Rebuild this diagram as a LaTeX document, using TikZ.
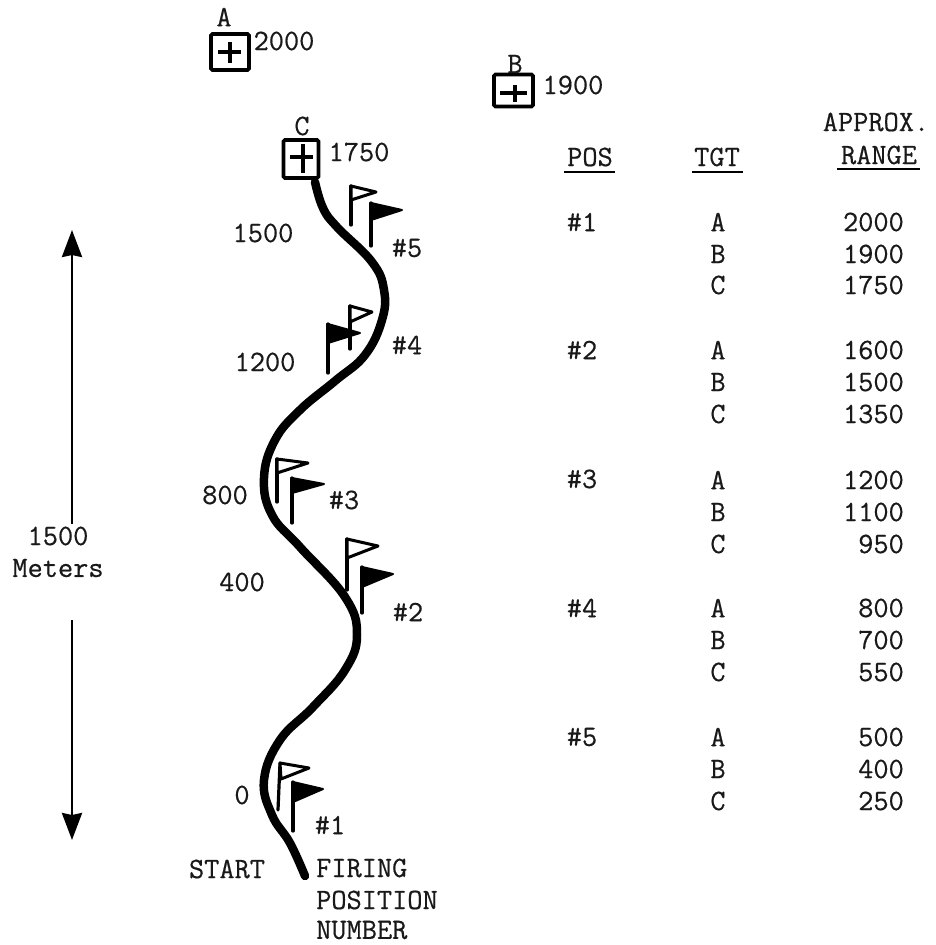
\documentclass[tikz,border=0pt]{standalone}
\usepackage{fontspec}
\usetikzlibrary{arrows.meta}
\newfontfamily\typer[FakeBold=0.5]{Latin Modern Mono}
\begin{document}
\begin{tikzpicture}[x=1pt,y=-1pt,
  txt/.style={font=\fontsize{29.5}{32}\selectfont\typer\bfseries,inner sep=0pt,text=black!90},
  tgtbox/.style={draw,line width=3.6pt,rounded corners=1.5pt,inner sep=0pt},
  road/.style={line width=8.5pt,line cap=round,line join=round},
  pole/.style={line width=3.2pt,line cap=round},
  wflag/.style={draw,line width=3pt,fill=white,line join=round},
  bflag/.style={draw,line width=2pt,fill=black,line join=round},
  dimline/.style={line width=2.8pt},
  tip/.style={-{Stealth[length=27pt,width=20pt,inset=2pt]}}]
\useasboundingbox (0,0) rectangle (936,945);
% targets
\node[tgtbox,minimum width=38pt,minimum height=36pt] (ta) at (230,52) {};
\draw[line width=3.4pt] (218,52) -- (241,52) (230,42) -- (230,63);
\node[tgtbox,minimum width=39pt,minimum height=32pt] (tb) at (513.5,90.5) {};
\draw[line width=3.4pt] (500,93) -- (527,93) (515,85) -- (515,102);
\node[tgtbox,minimum width=35pt,minimum height=38pt] (tc) at (301,159) {};
\draw[line width=3.4pt] (290,157) -- (313,157) (303,144) -- (303,173);
\node[txt] (la) at (224,17) {A};
\node[txt] (lb) at (515,64) {B};
\node[txt] (lc) at (302,126) {C};
\node[txt] (ra) at (284,41) {2000};
\node[txt] (rb) at (573,85) {1900};
\node[txt] (rc) at (359,152) {1750};
% road
\draw[road] plot[smooth,tension=0.7] coordinates {(305,876) (290,843) (272,815) (264,780) (280,740) (313,707) (345,670) (357,635) (345,597) (300,547) (272,515) (264,478) (275,440) (300,410) (335,381) (365,355) (382,320) (384,290) (372,262) (337,227) (323,208) (315,182)};
% flags
\draw[pole] (351,186) -- (351,225);
\draw[wflag] (351,186) -- (376,192) -- (351,200) -- cycle;
\draw[bflag] (371,203) -- (402,210) -- (371,220) -- cycle;
\draw[pole] (371,203) -- (371,246);
\draw[pole] (350,306) -- (350,349);
\draw[wflag] (350,306) -- (372,312) -- (350,322) -- cycle;
\draw[bflag] (328,324) -- (360,333) -- (328,343) -- cycle;
\draw[pole] (328,324) -- (328,373);
\draw[pole] (277,459) -- (277,502);
\draw[wflag] (277,459) -- (308,463) -- (277,473) -- cycle;
\draw[bflag] (292,478) -- (324,484) -- (292,493) -- cycle;
\draw[pole] (292,478) -- (292,523);
\draw[pole] (347,539) -- (347,590);
\draw[wflag] (347,539) -- (378,546) -- (347,558) -- cycle;
\draw[bflag] (362,567) -- (393,574) -- (362,587) -- cycle;
\draw[pole] (362,567) -- (362,613);
\draw[pole] (280,763) -- (278,810);
\draw[wflag] (280,763) -- (309,768) -- (281,779) -- cycle;
\draw[bflag] (293,782) -- (323,789) -- (293,802) -- cycle;
\draw[pole] (293,782) -- (293,831);
% road labels
\node[txt] (h1500) at (263,233) {1500};
\node[txt] (h1200) at (265,362) {1200};
\node[txt] (h800) at (225,495) {800};
\node[txt] (h400) at (242,582) {400};
\node[txt] (h0) at (242,795) {0};
\node[txt] (p5) at (407,248) {\#5};
\node[txt] (p4) at (407,345) {\#4};
\node[txt] (p3) at (344,500) {\#3};
\node[txt] (p2) at (408,612) {\#2};
\node[txt] (p1) at (330,825) {\#1};
\node[txt] (st) at (227,869) {START};
\node[txt,anchor=west] (f1) at (316,868) {FIRING};
\node[txt,anchor=west] (f2) at (316,900) {POSITION};
\node[txt,anchor=west] (f3) at (316,930) {NUMBER};
% dimension
\node[txt] (d1) at (58,536) {1500};
\node[txt] (d2) at (58,568) {Meters};
\coordinate (au) at (72,230);
\coordinate (al) at (72,840);
\coordinate (bu) at (72,524);
\coordinate (bl) at (72,620);
\draw[dimline,tip] (bu) -- (au);
\draw[dimline,tip] (bl) -- (al);
% table
\node[txt] (hpos) at (590,157) {POS};
\node[txt] (htgt) at (717,157) {TGT};
\node[txt] (hrng) at (876,122) {APPROX.};
\node[txt] (hrn2) at (879,155) {RANGE};
\draw[line width=1.8pt] (564,172) -- (615,172) (692,172) -- (743,172) (837,169) -- (920,169);
\foreach \n/\y in {1/222,2/350,3/479,4/608,5/737}{\node[txt] at (582,\y) {\#\n};}
\foreach \t/\y/\r in {A/222/2000,B/254/1900,C/285/1750,A/350/1600,B/382/1500,C/414/1350,A/480/1200,B/512/1100,C/544/950,A/608/800,B/640/700,C/672/550,A/737/500,B/769/400,C/801/250}{
  \node[txt] at (718,\y) {\t};
  \node[txt,anchor=east] at (904,\y) {\r};
}
\end{tikzpicture}
\end{document}
